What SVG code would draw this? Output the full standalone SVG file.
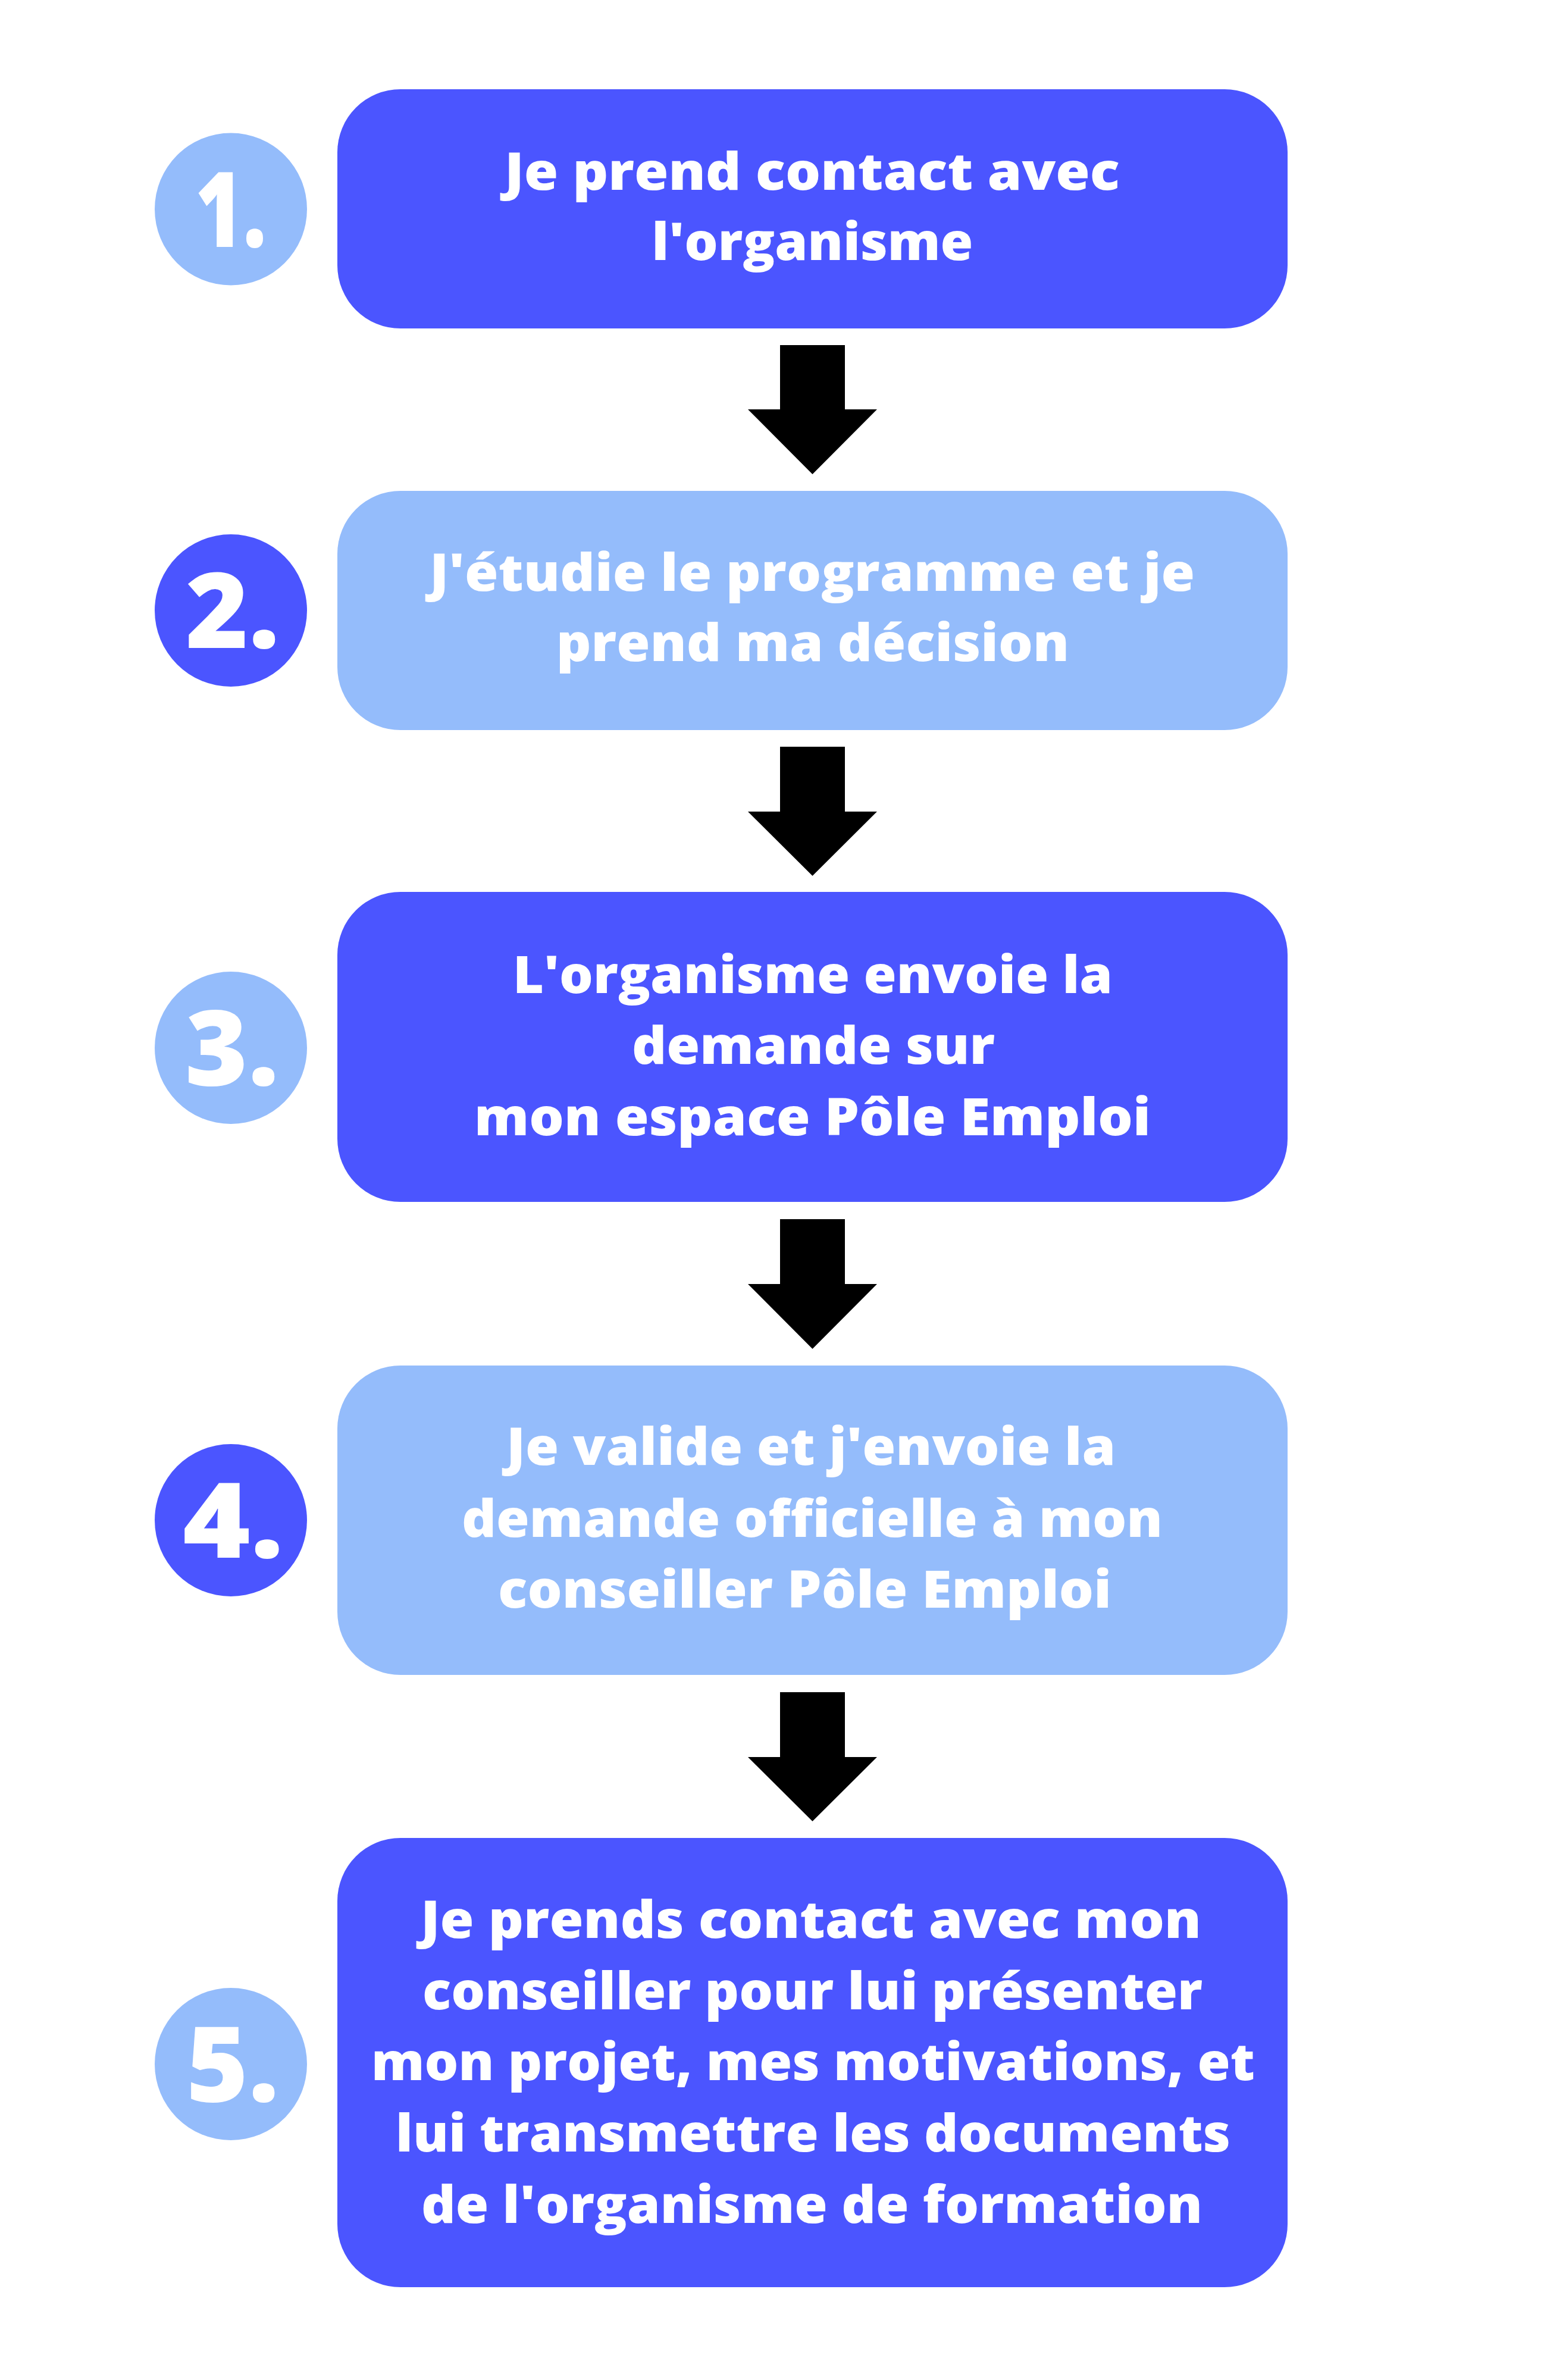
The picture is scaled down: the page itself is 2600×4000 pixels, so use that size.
<svg xmlns="http://www.w3.org/2000/svg" width="2600" height="4000" viewBox="0 0 2600 4000">
<style>
.dark{fill:#4B55FF}
.light{fill:#94BCFB}
.lbl{fill:#FFFFFF;font-family:"Open Sans","Liberation Sans",sans-serif;font-weight:800;font-size:86px;text-anchor:middle}
.num{fill:#FFFFFF;font-family:"Open Sans","Liberation Sans",sans-serif;font-weight:800;font-size:176px;text-anchor:middle}
.arrow{fill:#000000}
</style>
<rect width="2600" height="4000" fill="#FFFFFF"/>
<g id="step1">
<rect class="dark" x="567" y="150" width="1597" height="402" rx="106" ry="106"/>
<circle class="light" cx="388" cy="351.5" r="128"/>
<text class="num" x="388" y="415" textLength="120" lengthAdjust="spacingAndGlyphs">1.</text>
<text class="lbl" x="1365" y="319" textLength="1034" lengthAdjust="spacingAndGlyphs">Je prend contact avec</text>
<text class="lbl" x="1365.5" y="437" textLength="540" lengthAdjust="spacingAndGlyphs">l'organisme</text>
</g>
<g id="step2">
<rect class="light" x="567" y="825" width="1597" height="402" rx="106" ry="106"/>
<circle class="dark" cx="388" cy="1026" r="128"/>
<text class="num" x="391" y="1089" textLength="158" lengthAdjust="spacingAndGlyphs">2.</text>
<text class="lbl" x="1365" y="993" textLength="1286" lengthAdjust="spacingAndGlyphs">J'étudie le programme et je</text>
<text class="lbl" x="1366" y="1111" textLength="862" lengthAdjust="spacingAndGlyphs">prend ma décision</text>
</g>
<g id="step3">
<rect class="dark" x="567" y="1499" width="1597" height="521" rx="106" ry="106"/>
<circle class="light" cx="388" cy="1761" r="128"/>
<text class="num" x="390" y="1824" textLength="158" lengthAdjust="spacingAndGlyphs">3.</text>
<text class="lbl" x="1366" y="1669" textLength="1008" lengthAdjust="spacingAndGlyphs">L'organisme envoie la</text>
<text class="lbl" x="1367" y="1788" textLength="610" lengthAdjust="spacingAndGlyphs">demande sur</text>
<text class="lbl" x="1365.5" y="1908" textLength="1137" lengthAdjust="spacingAndGlyphs">mon espace Pôle Emploi</text>
</g>
<g id="step4">
<rect class="light" x="567" y="2295" width="1597" height="520" rx="106" ry="106"/>
<circle class="dark" cx="388" cy="2555" r="128"/>
<text class="num" x="392" y="2618" textLength="170" lengthAdjust="spacingAndGlyphs">4.</text>
<text class="lbl" x="1363" y="2462" textLength="1024" lengthAdjust="spacingAndGlyphs">Je valide et j'envoie la</text>
<text class="lbl" x="1365" y="2583" textLength="1178" lengthAdjust="spacingAndGlyphs">demande officielle à mon</text>
<text class="lbl" x="1352.5" y="2702" textLength="1031" lengthAdjust="spacingAndGlyphs">conseiller Pôle Emploi</text>
</g>
<g id="step5">
<rect class="dark" x="567" y="3089" width="1597" height="755" rx="106" ry="106"/>
<circle class="light" cx="388" cy="3469" r="128"/>
<text class="num" x="391" y="3532" textLength="156" lengthAdjust="spacingAndGlyphs">5.</text>
<text class="lbl" x="1363" y="3257" textLength="1312" lengthAdjust="spacingAndGlyphs">Je prends contact avec mon</text>
<text class="lbl" x="1365.5" y="3377" textLength="1311" lengthAdjust="spacingAndGlyphs">conseiller pour lui présenter</text>
<text class="lbl" x="1366.5" y="3496" textLength="1485" lengthAdjust="spacingAndGlyphs">mon projet, mes motivations, et</text>
<text class="lbl" x="1366.5" y="3616" textLength="1403" lengthAdjust="spacingAndGlyphs">lui transmettre les documents</text>
<text class="lbl" x="1364.5" y="3736" textLength="1313" lengthAdjust="spacingAndGlyphs">de l'organisme de formation</text>
</g>
<g id="connectors">
<polygon class="arrow" points="1311,580 1420,580 1420,688 1474,688 1365.5,797 1257,688 1311,688"/>
<polygon class="arrow" points="1311,1255 1420,1255 1420,1364 1474,1364 1365.5,1472 1257,1364 1311,1364"/>
<polygon class="arrow" points="1311,2049 1420,2049 1420,2158 1474,2158 1365.5,2267 1257,2158 1311,2158"/>
<polygon class="arrow" points="1311,2844 1420,2844 1420,2953 1474,2953 1365.5,3061 1257,2953 1311,2953"/>
</g>
</svg>
